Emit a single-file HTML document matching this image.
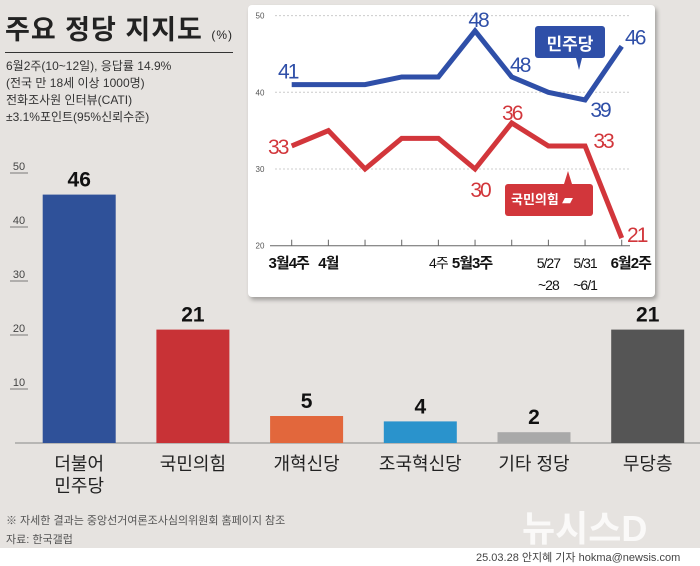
<!DOCTYPE html>
<html><head><meta charset="utf-8"><style>
body{margin:0;width:700px;height:566px;overflow:hidden;background:#fff;font-family:"Liberation Sans","Noto Sans CJK KR",sans-serif}
#bg{position:absolute;left:0;top:0;width:700px;height:548px;background:#e6e3e0}
.t{position:absolute;white-space:nowrap;color:#222}
</style></head><body>
<div id="bg"></div>
<div class="t" style="left:5px;top:8px;font-size:27px;font-weight:bold;letter-spacing:1px">주요 정당 지지도 <span style="font-size:12px;font-weight:normal">(%)</span></div>
<div style="position:absolute;left:5px;top:52px;width:228px;height:1px;background:#333"></div>
<div class="t" style="left:6px;top:58px;font-size:12px;line-height:17px;color:#333">6월2주(10~12일), 응답률 14.9%<br>(전국 만 18세 이상 1000명)<br>전화조사원 인터뷰(CATI)<br>±3.1%포인트(95%신뢰수준)</div>
<svg id="bar" width="700" height="566" style="position:absolute;left:0;top:0"></svg>
<div style="position:absolute;left:248px;top:5px;width:407px;height:292px;background:#fff;border-radius:4px;box-shadow:2px 3px 4px rgba(0,0,0,0.3)"></div>
<svg id="line" width="700" height="566" style="position:absolute;left:0;top:0"></svg>
<div class="t" style="left:6px;top:512px;font-size:11px;color:#555">※ 자세한 결과는 중앙선거여론조사심의위원회 홈페이지 참조</div>
<div class="t" style="left:6px;top:531px;font-size:11px;color:#555">자료: 한국갤럽</div>
<div class="t" style="left:522px;top:500px;font-size:36px;font-weight:bold;color:#fff;opacity:0.8">뉴시스D</div>
<div class="t" style="left:476px;top:549px;font-size:11px;color:#444">25.03.28 안지혜 기자 hokma@newsis.com</div>
<script>
const barCats=["더불어<br>민주당","국민의힘","개혁신당","조국혁신당","기타 정당","무당층"];
const barVals=[46,21,5,4,2,21];
const barColors=["#2f5199","#c83236","#e2673c","#2a93cc","#a9a9a9","#555555"];
const barTicks=[10,20,30,40,50];
const lineCats=["3월4주","4월","","","4주","5월3주","","5/27\n~28","5/31\n~6/1","6월2주"];
const minjuVals=[41,41,41,42,42,48,42,40,39,46];
const ppVals=[33,35,30,34,34,30,36,33,33,21];
const minjuLabels=["41","","","","","48","48","","39","46"];
const ppLabels=["33","","","","","30","36","","33","21"];
const lineTicks=[20,30,40,50];
const NS="http://www.w3.org/2000/svg";
function mk(svg,tag,a,txt){const e=document.createElementNS(NS,tag);for(const k in a)e.setAttribute(k,a[k]);if(txt!==undefined)e.textContent=txt;svg.appendChild(e);return e;}
const bs=document.getElementById('bar');
const by=v=>443-v*5.4, bx=i=>42.7+i*113.7;
barTicks.forEach(t=>{
 let e=mk(bs,'text',{x:19,y:by(t)-3,'font-size':11,'text-anchor':'middle',fill:'#444'},t);
 
 mk(bs,'line',{x1:10,x2:28,y1:by(t),y2:by(t),stroke:'#555','stroke-width':0.8});
});
mk(bs,'line',{x1:15,x2:700,y1:443,y2:443,stroke:'#888','stroke-width':1});
barVals.forEach((v,i)=>{
 let r=mk(bs,'rect',{x:bx(i),y:by(v),width:73,height:v*5.4,fill:barColors[i]});
 
 
 let t=mk(bs,'text',{x:bx(i)+36.5,y:by(v)-8,'font-size':21,'font-weight':'bold','text-anchor':'middle',fill:'#111'},v);
 
 
 const parts=barCats[i].split('<br>');
 parts.forEach((p,j)=>{let c=mk(bs,'text',{x:bx(i)+36.5,y:470+j*22,'font-size':18,'text-anchor':'middle',fill:'#222'},p);
 
 });
});
const ls=document.getElementById('line');
const lx=i=>291.7+i*36.67, ly=v=>245.7-(v-20)*7.67;
lineTicks.forEach(t=>{
 let e=mk(ls,'text',{x:260,y:ly(t)+3,'font-size':8,'text-anchor':'middle',fill:'#555'},t);
 
 if(t>20) mk(ls,'line',{x1:275,x2:630,y1:ly(t),y2:ly(t),stroke:'#ccc','stroke-dasharray':'2,2'});
});
mk(ls,'line',{x1:270,x2:630,y1:ly(20),y2:ly(20),stroke:'#666'});
lineCats.forEach((c,i)=>{
 mk(ls,'line',{x1:lx(i),x2:lx(i),y1:ly(20)-6,y2:ly(20),stroke:'#666'});
 const ps=c.split('\n');
 ps.forEach((p,j)=>{let bold=/월/.test(p);
 let t=mk(ls,'text',{x:lx(i)+(i==0||i==5?-3:0)+(i==9?9:0),y:268+j*22,'font-size':bold?15:14,'font-weight':bold?'bold':'normal','text-anchor':'middle',fill:'#111','letter-spacing':'-1'},p);
 
 });
});
function series(vals,labels,color,name,offs){
 let p=mk(ls,'polyline',{points:vals.map((v,i)=>lx(i)+','+ly(v)).join(' '),fill:'none',stroke:color,'stroke-width':5,'stroke-linejoin':'miter'});
 
 
 vals.forEach((v,i)=>{if(!labels[i])return;const o=offs[i];
  let t=mk(ls,'text',{x:lx(i)+o[0],y:ly(v)+o[1],'font-size':21,'text-anchor':'middle',fill:color,'letter-spacing':'-2'},labels[i]);
  
  });
}
series(minjuVals,minjuLabels,'#2f4fa8','minju-line',{0:[-4,-6],5:[3,-4],6:[8,-5],8:[15,17],9:[13,-2]});
series(ppVals,ppLabels,'#d2363b','pp-line',{0:[-14,8],5:[5,28],6:[0,-3],8:[18,2],9:[15,4]});
</script>
<div style="position:absolute;left:535px;top:26px;width:70px;height:32px;background:#2f4fa8;border-radius:3px;color:#fff;font-weight:bold;font-size:17px;text-align:center;line-height:38px">민주당</div>
<div style="position:absolute;left:576px;top:58px;width:0;height:0;border-left:3px solid transparent;border-right:3px solid transparent;border-top:12px solid #2f4fa8"></div>
<div style="position:absolute;left:564px;top:171px;width:0;height:0;border-left:4px solid transparent;border-right:4px solid transparent;border-bottom:13px solid #d2363b"></div>
<div style="position:absolute;left:505px;top:184px;width:88px;height:32px;background:#d2363b;border-radius:3px;color:#fff;font-weight:bold;font-size:13px;line-height:32px;padding-left:6px;box-sizing:border-box">국민의힘 ▰</div>
</body></html>
